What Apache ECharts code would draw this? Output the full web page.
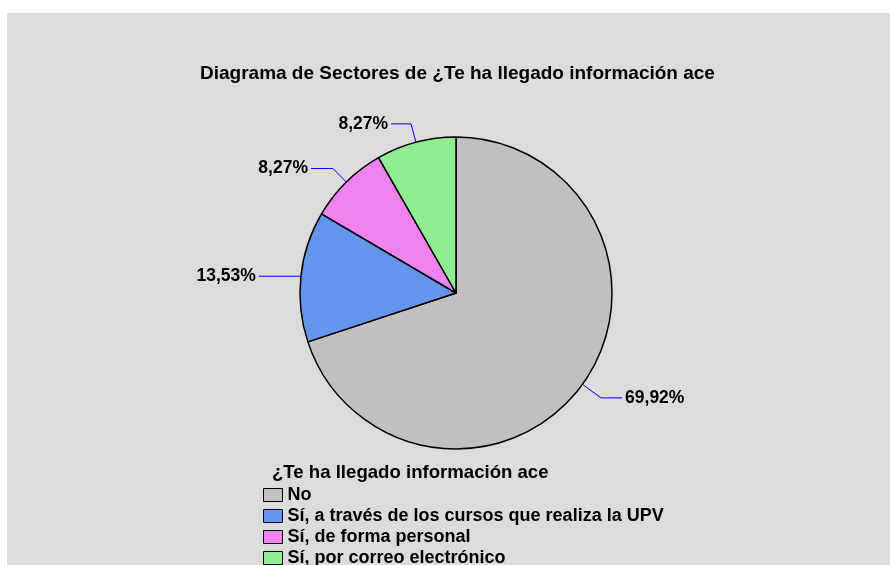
<!DOCTYPE html>
<html><head><meta charset="utf-8">
<script src="https://cdn.jsdelivr.net/npm/echarts@6/dist/echarts.min.js"></script>
<style>html,body{margin:0;padding:0;background:#fff}#c{width:890px;height:565px}</style>
</head><body><div id="c"></div>
<script>
const categories = ['No', 'Sí, a través de los cursos que realiza la UPV', 'Sí, de forma personal', 'Sí, por correo electrónico'];
const values = [69.92, 13.53, 8.27, 8.27];
const labels = ['69,92%', '13,53%', '8,27%', '8,27%'];
const colors = ['#c0c0c0', '#6495ed', '#ee82ee', '#90ee90'];
const lineLen = [[23, 21], [2, 40], [19, 22], [19, 20]];

const chart = echarts.init(document.getElementById('c'));
const font = 'Liberation Sans, Arial, sans-serif';
chart.setOption({
  animation: false,
  backgroundColor: '#ffffff',
  graphic: [{type: 'rect', z: -10, shape: {x: 7, y: 13, width: 890, height: 560}, style: {fill: '#dcdcdc'}}],
  title: [
    {text: 'Diagrama de Sectores de ¿Te ha llegado información ace', left: 195, top: 59,
     textStyle: {fontFamily: font, fontWeight: 'bold', fontSize: 19, color: '#000'}},
    {text: '¿Te ha llegado información ace', left: 267, top: 458,
     textStyle: {fontFamily: font, fontWeight: 'bold', fontSize: 18.6, color: '#000'}}
  ],
  legend: {
    orient: 'vertical', left: 258, top: 481, height: 100, padding: 5,
    itemWidth: 19, itemHeight: 13, itemGap: 3,
    icon: 'rect', selectedMode: false,
    itemStyle: {borderColor: '#000', borderWidth: 1},
    textStyle: {fontFamily: font, fontWeight: 'bold', fontSize: 18, lineHeight: 16, color: '#000'},
    data: categories
  },
  series: [{
    type: 'pie', center: [456, 293], radius: 156, startAngle: 90, clockwise: true,
    avoidLabelOverlap: false,
    itemStyle: {borderColor: '#000', borderWidth: 1.5},
    label: {fontFamily: font, fontWeight: 'bold', fontSize: 17.5, color: '#000', distanceToLabelLine: 3},
    labelLine: {lineStyle: {color: '#0000ff', width: 1}},
    data: categories.map((c, i) => ({
      name: c, value: values[i],
      itemStyle: {color: colors[i]},
      label: {formatter: labels[i]},
      labelLine: {length: lineLen[i][0], length2: lineLen[i][1]}
    }))
  }]
});
</script></body></html>
